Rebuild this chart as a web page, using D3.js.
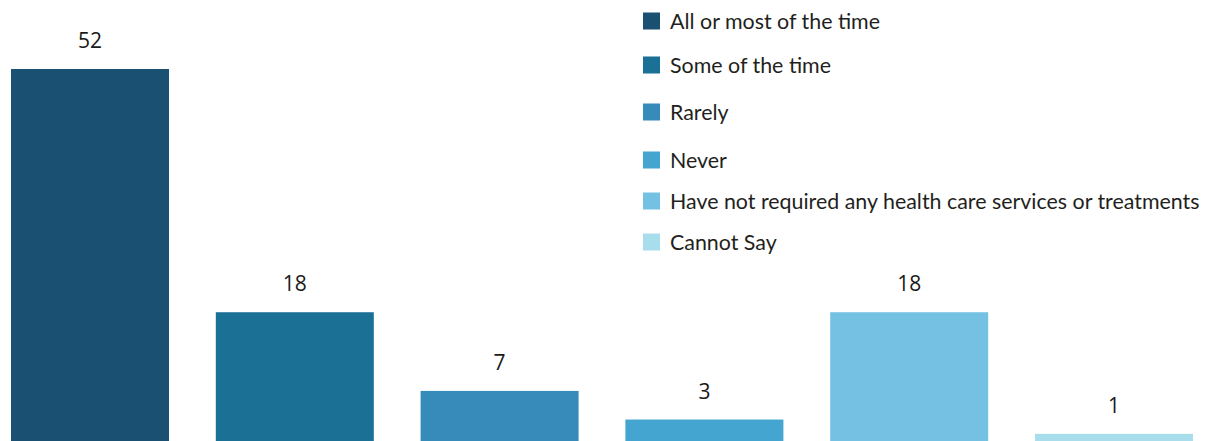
<!DOCTYPE html>
<html>
<head>
<meta charset="utf-8">
<script src="https://cdn.jsdelivr.net/npm/d3@7"></script>
<style>
  html, body { margin: 0; padding: 0; background: #fff; }
  svg { display: block; }
</style>
</head>
<body>
<svg id="chart" width="1210" height="441"></svg>
<script>
// Responses, in display order
const categories = [
  "All or most of the time",
  "Some of the time",
  "Rarely",
  "Never",
  "Have not required any health care services or treatments",
  "Cannot Say"
];
const values = [52, 18, 7, 3, 18, 1];
const colors = ["#1a5072", "#1b7096", "#378bbb", "#43a5d0", "#74c1e3", "#a8ddec"];

const W = 1210, H = 441;
const svg = d3.select("#chart");

const x = d3.scaleBand()
  .domain(categories)
  .range([11, 1193])
  .paddingInner(0.2285)
  .paddingOuter(0);

const y = d3.scaleLinear()
  .domain([0, 52])
  .range([H, 69]);

const data = categories.map((c, i) => ({ cat: c, value: values[i], color: colors[i] }));

// Bars
svg.append("g").selectAll("rect")
  .data(data)
  .join("rect")
  .attr("x", d => x(d.cat))
  .attr("y", d => y(d.value))
  .attr("width", x.bandwidth())
  .attr("height", d => H - y(d.value))
  .attr("fill", d => d.color);

// Value labels above bars
svg.append("g").selectAll("text")
  .data(data)
  .join("text")
  .attr("x", d => x(d.cat) + x.bandwidth() / 2)
  .attr("y", d => y(d.value) - 21)
  .attr("text-anchor", "middle")
  .attr("font-family", "'Open Sans', sans-serif")
  .attr("font-size", 21)
  .attr("fill", "#1a1a1a")
  .text(d => d.value);

// Legend (rows sit at slightly uneven spacing)
const legendRowY = [21, 65, 112, 160, 201, 242];
const legend = svg.append("g").selectAll("g")
  .data(data)
  .join("g")
  .attr("transform", (d, i) => `translate(643, ${legendRowY[i]})`);

legend.append("rect")
  .attr("x", 0)
  .attr("y", -8.5)
  .attr("width", 17)
  .attr("height", 17)
  .attr("fill", d => d.color);

legend.append("text")
  .attr("x", 27)
  .attr("y", 0)
  .attr("dy", "0.35em")
  .attr("font-family", "Lato, sans-serif")
  .attr("font-size", 21.4)
  .attr("fill", "#231f20")
  .text(d => d.cat);
</script>
</body>
</html>
